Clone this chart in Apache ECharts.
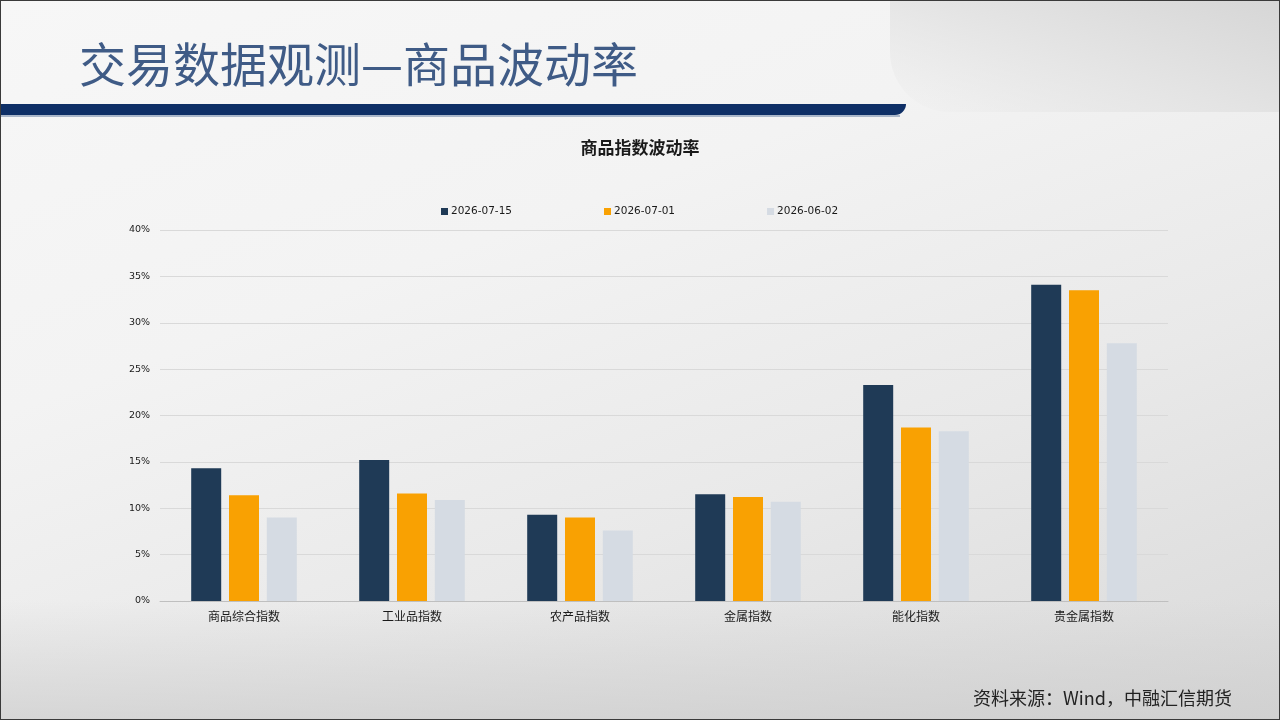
<!DOCTYPE html>
<html>
<head>
<meta charset="utf-8">
<script src="https://cdn.jsdelivr.net/npm/echarts@6/dist/echarts.min.js"></script>
<style>
html,body{margin:0;padding:0;width:1280px;height:720px;overflow:hidden;}
body{background:linear-gradient(160deg,#f7f7f7 0%,#f3f3f3 35%,#e9e9e9 65%,#d9d9d9 100%);position:relative;}
#deco-right{position:absolute;left:890px;top:0;width:390px;height:112px;background:linear-gradient(200deg,#d6d6d6 0%,#e4e4e4 50%,rgba(240,240,240,0) 100%);border-bottom-left-radius:60px;}
#stripe{position:absolute;left:0;top:104px;width:906px;height:11px;background:#0e2f66;border-bottom-right-radius:12px;}
#stripe2{position:absolute;left:0;top:115px;width:900px;height:2px;background:#a9b6c9;}
#bottom{position:absolute;left:0;top:600px;width:1280px;height:120px;background:linear-gradient(180deg,rgba(220,220,220,0) 0%,rgba(205,205,205,0.7) 100%);}
#frame{position:absolute;left:0;top:0;width:1278px;height:718px;border:1px solid #3a3a3a;pointer-events:none;}
#chart{position:absolute;left:0;top:0;width:1280px;height:720px;}
</style>
</head>
<body>
<div id="deco-right"></div>
<div id="stripe"></div>
<div id="stripe2"></div>
<div id="bottom"></div>
<div id="chart"></div>
<div id="frame"></div>
<script>
var categories = ['商品综合指数','工业品指数','农产品指数','金属指数','能化指数','贵金属指数'];
var seriesNames = ['2026-07-15','2026-07-01','2026-06-02'];
var vol0715 = [14.3, 15.2, 9.3, 11.5, 23.3, 34.1];
var vol0701 = [11.4, 11.6, 9.0, 11.2, 18.7, 33.5];
var vol0602 = [9.0, 10.9, 7.6, 10.7, 18.3, 27.8];
var yTicks = [0,5,10,15,20,25,30,35,40];
var colors = ['#1f3a56','#f9a102','#d5dbe3'];

var chart = echarts.init(document.getElementById('chart'), null, {renderer:'canvas'});
var allValues = [vol0715, vol0701, vol0602];
chart.setOption({
  backgroundColor:'transparent',
  animation:false,
  title:[
    {text:'交易数据观测—商品波动率', left:74, top:36,
     textStyle:{fontFamily:'Noto Sans CJK SC', fontSize:47, fontWeight:'normal', color:'#3f5b86'}},
    {text:'商品指数波动率', left:'center', top:134,
     textStyle:{fontFamily:'Noto Sans CJK SC', fontSize:17, fontWeight:'bold', color:'#1a1a1a'}},
    {text:'资料来源：Wind，中融汇信期货', left:968, top:684,
     textStyle:{fontFamily:'Noto Sans CJK SC', fontSize:18, fontWeight:'normal', color:'#222'}}
  ],
  legend:{
    data:seriesNames, left:436, top:201, itemWidth:7, itemHeight:7, itemGap:92,
    icon:'rect',
    textStyle:{fontFamily:'DejaVu Sans', fontSize:10.5, color:'#1a1a1a', padding:[0,0,0,-2]}
  },
  grid:{left:160, right:112, top:230, bottom:119, containLabel:false},
  xAxis:{
    type:'category', data:categories,
    axisLine:{lineStyle:{color:'#bfbfbf'}},
    axisTick:{show:false},
    axisLabel:{fontFamily:'Noto Sans CJK SC', fontSize:12, color:'#1a1a1a', margin:9}
  },
  yAxis:{
    type:'value', min:yTicks[0], max:yTicks[yTicks.length-1], interval:yTicks[1]-yTicks[0],
    axisLine:{show:false}, axisTick:{show:false},
    axisLabel:{formatter:'{value}%', fontFamily:'DejaVu Sans', fontSize:9.5, color:'#1a1a1a', margin:10},
    splitLine:{lineStyle:{color:'#d9d9d9'}}
  },
  series: seriesNames.map(function(n,i){
    return {name:n, type:'bar', data:allValues[i], barWidth:30, barGap:'26%',
      itemStyle:{color:colors[i]}};
  })
});
</script>
</body>
</html>
